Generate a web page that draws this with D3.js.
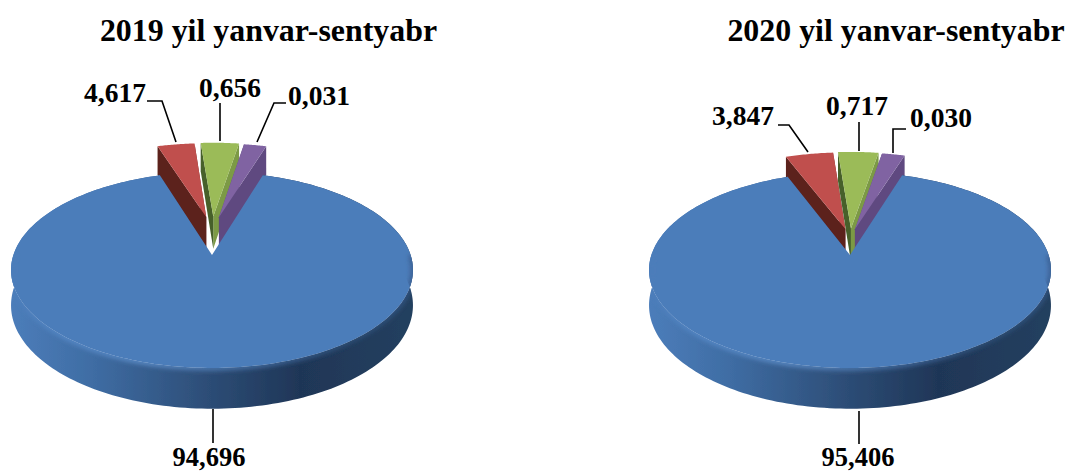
<!DOCTYPE html>
<html><head><meta charset="utf-8">
<script src="https://cdn.jsdelivr.net/npm/d3@7/dist/d3.min.js"></script>
<style>html,body{margin:0;padding:0;background:#fff}svg{display:block}text{font-family:"Liberation Serif",serif;font-weight:700;fill:#000}</style>
</head><body><svg id="c" width="1069" height="472"></svg>
<script>
// label values
const categories = ["a","b","c","d"];
const labels2019 = ["4,617","0,656","0,031","94,696"];
const labels2020 = ["3,847","0,717","0,030","95,406"];
// drawn slice sizes (percent of the circle)
const shares2019 = [3.65,3.75,2.2,90.4];
const shares2020 = [4.6,3.9,2.2,89.3];
const titles = ["2019 yil yanvar-sentyabr","2020 yil yanvar-sentyabr"];
const topColors = ["#C0504D","#9BBB59","#8064A2"];
const sideLeft = ["#5c201e","#46602a","#5f4a80"];
const sideRight = ["#7a2f2c","#7c9a45","#5f4a80"];

const pies = [
 {title:titles[0],tx:268.5,cx:212,cy:255,start:-17.5,explode:.43,labels:labels2019,shares:shares2019,
  lab:[[115,102],[230,97],[319,105],[209,466]],
  lead:[[[147,101],[162,101],[176,142]],[[220,103],[220,141]],[[286,103],[274,103],[257,142]],[[213,409],[213,443]]]},
 {title:titles[1],tx:896,cx:850,cy:255,start:-21,explode:.29,labels:labels2020,shares:shares2020,
  lab:[[743,125],[857,115],[941,127],[858,466]],
  lead:[[[778,125],[789,125],[808,152]],[[859,122],[859,151]],[[906,129],[893,129],[893,153]],[[859,411],[859,444]]]}
];
const Rx=198.6, A=95.7, H=34.5, K=.153, XF=.38;
const svg=d3.select("#c"), defs=svg.append("defs");
const soft=defs.append("filter").attr("id","soft").attr("x","-5%").attr("y","-5%").attr("width","110%").attr("height","110%");
soft.append("feGaussianBlur").attr("stdDeviation",.45);
const blur=defs.append("filter").attr("id","rimblur").attr("x","-10%").attr("y","-20%").attr("width","120%").attr("height","140%");
blur.append("feGaussianBlur").attr("stdDeviation",2.5);
const line=d3.line();

pies.forEach((p,pi)=>{
  const sx0=p.cx-201, W=402;
  const sideGrad=defs.append("linearGradient").attr("id","side"+pi).attr("gradientUnits","userSpaceOnUse")
    .attr("x1",sx0).attr("x2",sx0+W).attr("y1",0).attr("y2",0);
  [[0,"#4c7dba"],[.2,"#3f6da4"],[.5,"#2c4c75"],[.72,"#1f3657"],[1,"#24405f"]].forEach(s=>sideGrad.append("stop").attr("offset",s[0]).attr("stop-color",s[1]));
  const rimGrad=defs.append("linearGradient").attr("id","rim"+pi).attr("gradientUnits","userSpaceOnUse")
    .attr("x1",sx0).attr("x2",sx0+W).attr("y1",0).attr("y2",0);
  [[0,"#4c7dba"],[.12,"#5a8ccb"],[.35,"#6596d4"],[.6,"#4a78b0"],[.85,"#2f5079"],[1,"#35598a"]].forEach(s=>rimGrad.append("stop").attr("offset",s[0]).attr("stop-color",s[1]));

  const proj=(X,Y,Z)=>{const w=1-K*Y;return [p.cx+Rx*X/w,p.cy+(A*Y-H*Z)/w];};
  const polar=(r,a,ox,oy,Z)=>proj(ox+r*Math.sin(a),oy-r*Math.cos(a),Z);
  const arcs=d3.pie().sort(null).value(d=>d).startAngle(p.start*Math.PI/180).endAngle(p.start*Math.PI/180+2*Math.PI)(p.shares);
  const g=svg.append("g").attr("filter","url(#soft)");

  // small exploded slices, drawn behind the big one
  arcs.slice(0,3).forEach((d,i)=>{
    const mid=(d.startAngle+d.endAngle)/2, ox=p.explode*Math.sin(mid)*XF, oy=-p.explode*Math.cos(mid);
    const an=d3.range(0,25).map(k=>d.startAngle+(d.endAngle-d.startAngle)*k/24);
    const face=(a,fill)=>g.append("path").attr("fill",fill).attr("d",line([polar(0,a,ox,oy,0),polar(1,a,ox,oy,0),polar(1,a,ox,oy,-1),polar(0,a,ox,oy,-1)])+"Z");
    face(d.endAngle,sideRight[i]);
    face(d.startAngle,sideLeft[i]);
    g.append("path").attr("fill",topColors[i])
      .attr("d",line([polar(0,0,ox,oy,0)].concat(an.map(a=>polar(1,a,ox,oy,0))))+"Z");
  });

  // large slice
  const b=arcs[3];
  const an=d3.range(0,241).map(k=>b.startAngle+(b.endAngle-b.startAngle)*k/240);
  const rimTop=an.map(a=>polar(1,a,0,0,0));
  const rimBot=an.map(a=>polar(1,a,0,0,-1));
  const solid=line(rimTop.concat(rimBot.slice().reverse()))+"Z";
  g.append("path").attr("fill",`url(#side${pi})`).attr("d",solid);
  g.append("path").attr("fill","#4c7dba").attr("d",line([polar(0,0,0,0,0)].concat(rimTop))+"Z");
  defs.append("clipPath").attr("id","clip"+pi).append("path").attr("d",solid);
  // soft bevel along the front half of the rim only
  const front=d3.range(0,121).map(k=>polar(1,Math.PI/2+Math.PI*k/120,0,0,0));
  g.append("g").attr("clip-path",`url(#clip${pi})`)
    .append("path").attr("fill","none").attr("stroke",`url(#rim${pi})`).attr("stroke-width",4)
    .attr("filter","url(#rimblur)").attr("d",line(front));

  // leaders and labels
  p.lead.forEach(l=>svg.append("path").attr("fill","none").attr("stroke","#000").attr("stroke-width",1.6).attr("d",line(l)));
  p.labels.forEach((t,i)=>svg.append("text").attr("x",p.lab[i][0]).attr("y",p.lab[i][1]).attr("text-anchor","middle").attr("font-size",i<3?27.5:26.5).text(t));
  svg.append("text").attr("x",p.tx).attr("y",41).attr("text-anchor","middle").attr("font-size",31.9).text(p.title);
});
</script></body></html>
